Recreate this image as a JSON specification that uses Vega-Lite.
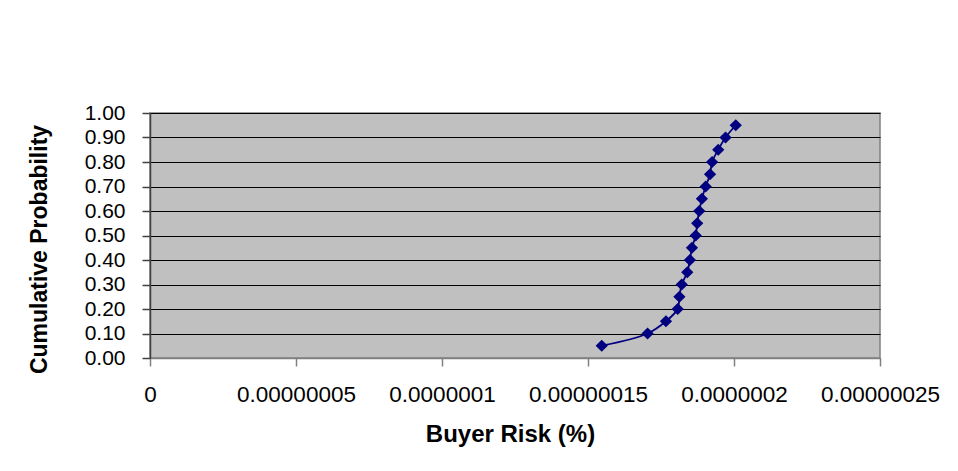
{
  "$schema": "https://vega.github.io/schema/vega-lite/v6.json",
  "width": 730,
  "height": 245,
  "autosize": {"type": "none"},
  "padding": {"left": 150, "top": 113, "right": 78, "bottom": 113},
  "background": "white",
  "config": {
    "font": "Liberation Sans",
    "view": {"fill": "#C0C0C0", "stroke": "#808080", "strokeWidth": 1.5}
  },
  "data": {
    "values": [
      {"risk": 1.547e-7, "p": 0.05},
      {"risk": 1.704e-7, "p": 0.10},
      {"risk": 1.767e-7, "p": 0.15},
      {"risk": 1.807e-7, "p": 0.20},
      {"risk": 1.813e-7, "p": 0.25},
      {"risk": 1.821e-7, "p": 0.30},
      {"risk": 1.840e-7, "p": 0.35},
      {"risk": 1.849e-7, "p": 0.40},
      {"risk": 1.856e-7, "p": 0.45},
      {"risk": 1.869e-7, "p": 0.50},
      {"risk": 1.874e-7, "p": 0.55},
      {"risk": 1.881e-7, "p": 0.60},
      {"risk": 1.890e-7, "p": 0.65},
      {"risk": 1.903e-7, "p": 0.70},
      {"risk": 1.918e-7, "p": 0.75},
      {"risk": 1.925e-7, "p": 0.80},
      {"risk": 1.946e-7, "p": 0.85},
      {"risk": 1.971e-7, "p": 0.90},
      {"risk": 2.006e-7, "p": 0.95}
    ]
  },
  "encoding": {
    "x": {
      "field": "risk", "type": "quantitative",
      "scale": {"domain": [0, 2.5e-7], "nice": false, "zero": true},
      "axis": {
        "title": "Buyer Risk (%)",
        "values": [0, 5e-8, 1e-7, 1.5e-7, 2e-7, 2.5e-7],
        "format": ".8~f",
        "grid": false,
        "domain": true, "domainColor": "#808080", "domainWidth": 1.5,
        "tickColor": "#808080", "tickSize": 8, "tickWidth": 1.5,
        "labelFontSize": 22.5, "labelColor": "black", "labelPadding": 17,
        "labelFlush": false, "labelOverlap": false,
        "titleFontSize": 24, "titleFontWeight": "bold", "titleColor": "black",
        "titlePadding": 17, "titleX": 360
      }
    },
    "y": {
      "field": "p", "type": "quantitative",
      "scale": {"domain": [0, 1], "nice": false},
      "axis": {
        "title": "Cumulative Probability",
        "values": [0, 0.1, 0.2, 0.3, 0.4, 0.5, 0.6, 0.7, 0.8, 0.9, 1.0],
        "format": ".2f",
        "grid": true, "gridColor": "black", "gridWidth": 1,
        "domain": true, "domainColor": "#404040", "domainWidth": 1.5,
        "tickColor": "#404040", "tickSize": 8, "tickWidth": 1.5,
        "labelFontSize": 21, "labelColor": "black", "labelPadding": 17,
        "labelFlush": false, "labelOverlap": false,
        "titleFontSize": 23, "titleFontWeight": "bold", "titleColor": "black",
        "titlePadding": 33, "titleY": 136
      }
    }
  },
  "layer": [
    {"mark": {"type": "line", "color": "#000080", "strokeWidth": 1.8, "interpolate": "catmull-rom"}},
    {"mark": {"type": "point", "shape": "diamond", "filled": true, "color": "#000080", "opacity": 1, "size": 150}}
  ]
}
